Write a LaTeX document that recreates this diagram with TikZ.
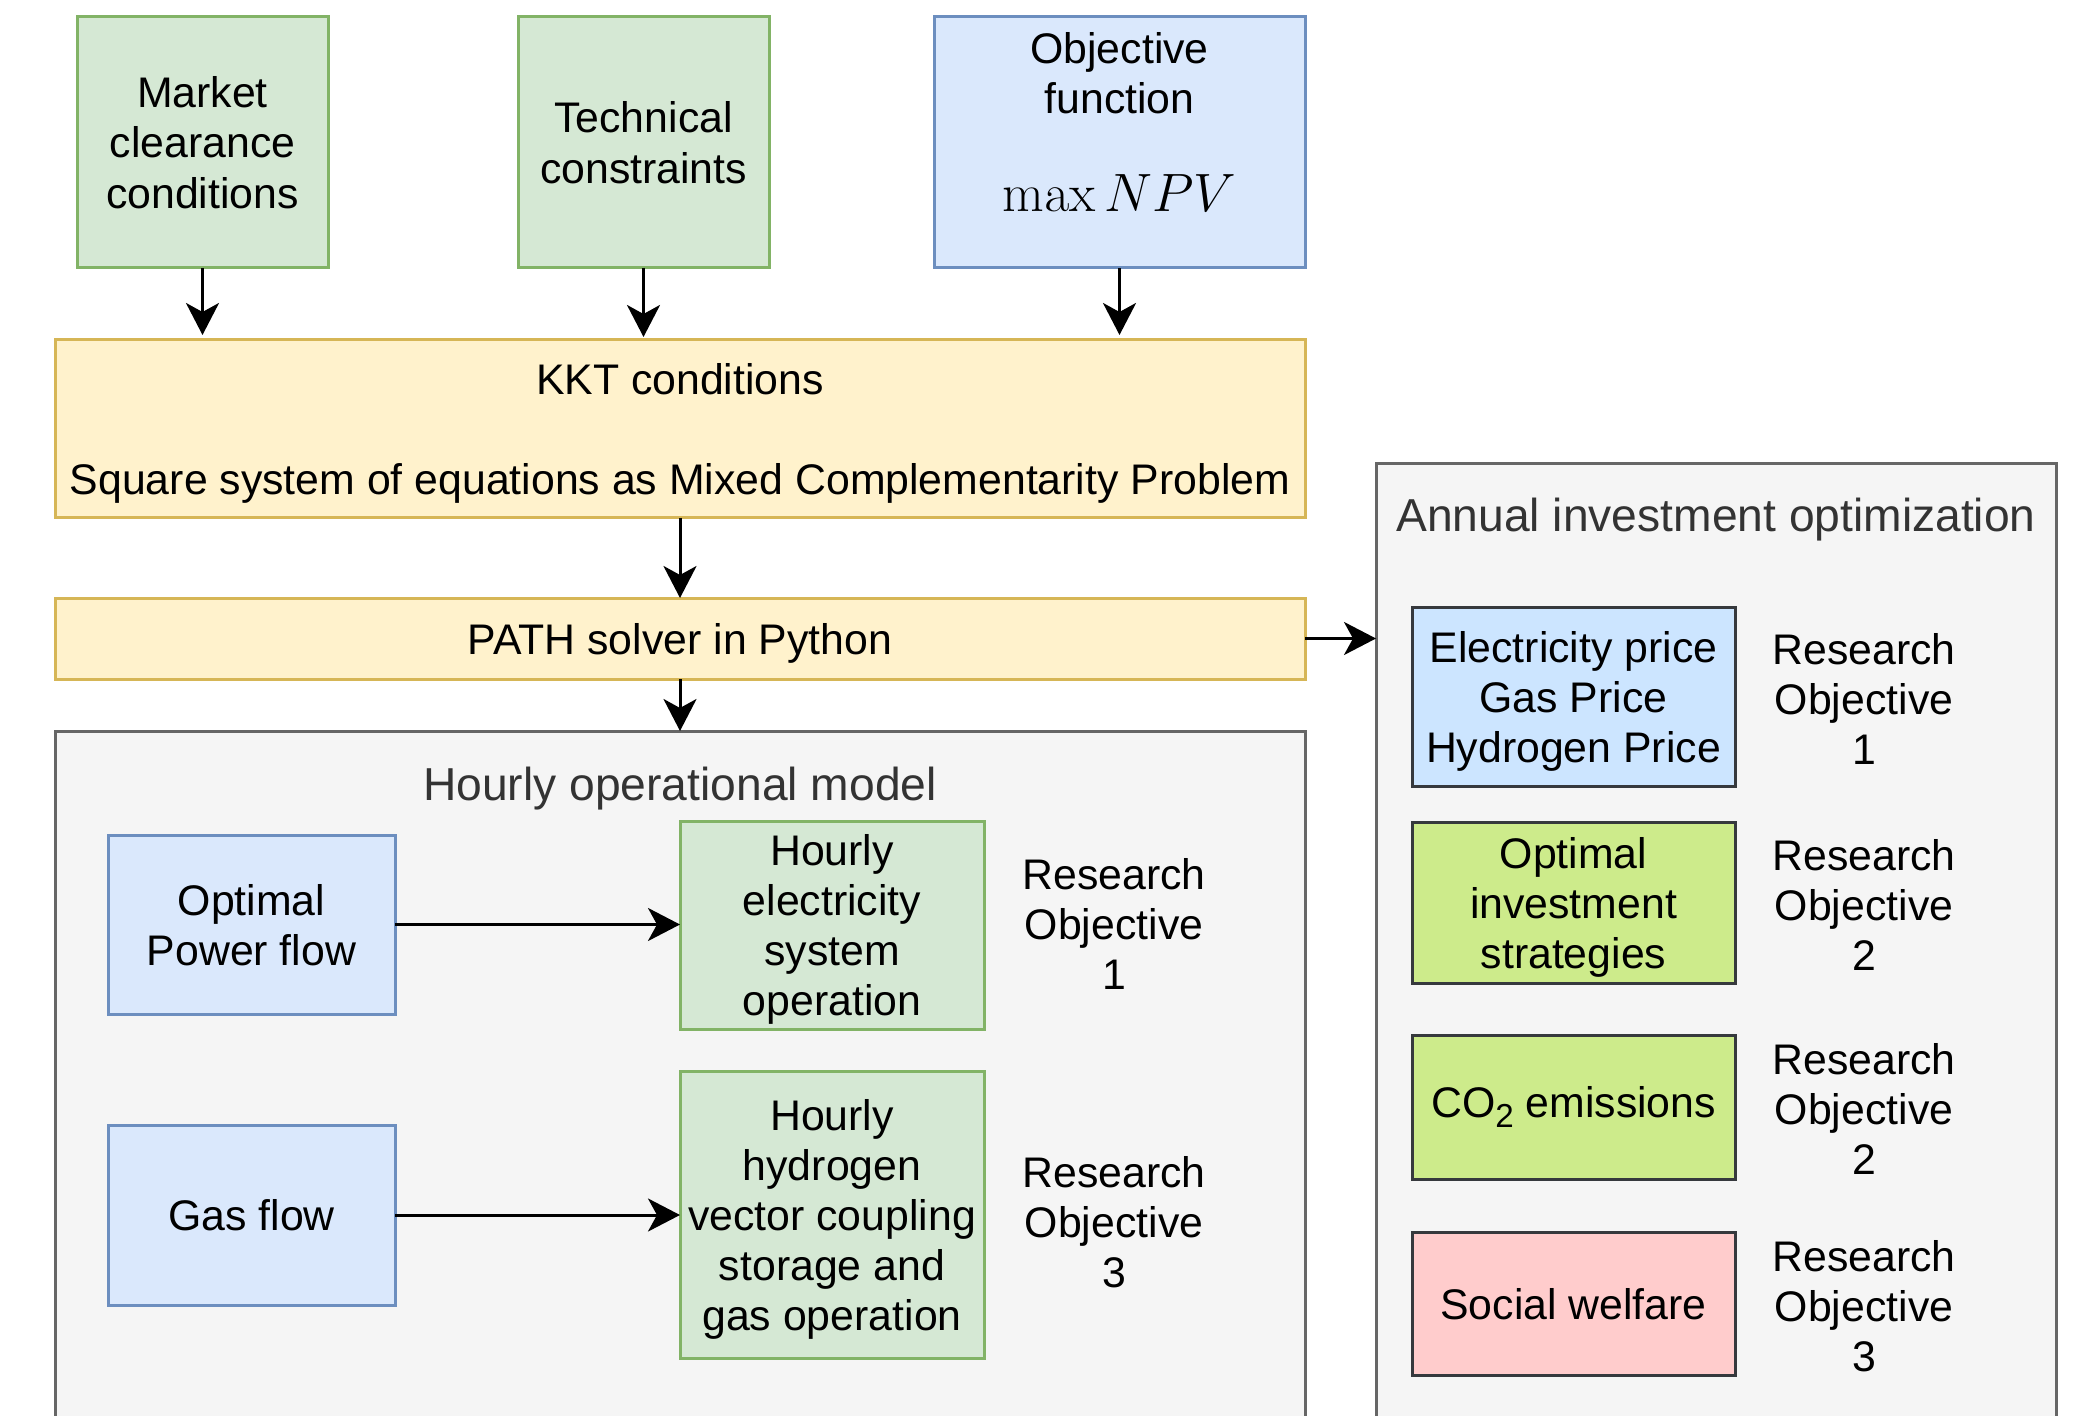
\documentclass[tikz,border=0pt]{standalone}
\usepackage{fix-cm}
\usepackage[no-math]{fontspec}
\setmainfont{Liberation Sans}
\usetikzlibrary{arrows.meta}

\definecolor{grnfill}{HTML}{D5E8D4}
\definecolor{grnline}{HTML}{82B366}
\definecolor{blufill}{HTML}{DAE8FC}
\definecolor{bluline}{HTML}{6C8EBF}
\definecolor{yelfill}{HTML}{FFF2CC}
\definecolor{yelline}{HTML}{D6B656}
\definecolor{grayfill}{HTML}{F5F5F5}
\definecolor{grayline}{HTML}{666666}
\definecolor{titletext}{HTML}{333333}
\definecolor{darkline}{HTML}{36393D}
\definecolor{skyfill}{HTML}{CCE5FF}
\definecolor{limefill}{HTML}{CDEB8B}
\definecolor{rosefill}{HTML}{FFCCCC}

\newcommand\diagfont{\fontsize{21.4pt}{25pt}\selectfont}
\newcommand\headfont{\fontsize{23.1pt}{27pt}\selectfont}
\newcommand\subtwo{\raisebox{-5pt}{\fontsize{16.6pt}{16.6pt}\selectfont 2}}

\begin{document}
\begin{tikzpicture}[x=0.5pt,y=-0.5pt,
  box/.style={draw, line width=1.5pt, inner sep=0pt, outer sep=0pt,
    align=center, font=\diagfont, text=black, text depth=0pt},
  greenbox/.style={box, fill=grnfill, draw=grnline},
  bluebox/.style={box, fill=blufill, draw=bluline},
  yellowbox/.style={box, fill=yelfill, draw=yelline},
  groupbox/.style={box, fill=grayfill, draw=grayline},
  skybox/.style={box, fill=skyfill, draw=darkline},
  limebox/.style={box, fill=limefill, draw=darkline},
  rosebox/.style={box, fill=rosefill, draw=darkline},
  grouptitle/.style={font=\headfont, text=titletext, inner sep=0pt, text depth=0pt},
  plain/.style={font=\diagfont, align=center, inner sep=0pt},
  conn/.style={line width=1.5pt,
    -{Stealth[length=16pt,width=16.5pt,inset=4.5pt]}}
]
\useasboundingbox (0,0) rectangle (2080,1416);
\clip (0,0) rectangle (2080,1416);

% group containers
\node[groupbox, minimum width=625pt, minimum height=354.5pt] (hourly) at (680,1085.5) {};
\node[grouptitle] (hourlytitle) at (680,784) {Hourly operational model};
\node[groupbox, minimum width=340pt, minimum height=488pt] (annual) at (1716,952) {};
\node[grouptitle] (annualtitle) at (1716,515) {Annual investment optimization};

% model inputs
\node[greenbox, minimum width=125.5pt, minimum height=125.5pt] (market) at (202.5,142.5)
  {Market\\clearance\\conditions};
\node[greenbox, minimum width=125.5pt, minimum height=125.5pt] (tech) at (643.5,142.5)
  {Technical\\constraints};
\node[bluebox, minimum width=185.5pt, minimum height=125.5pt] (obj) at (1119.5,142.5) {};
\node[plain] (objtext) at (1119.5,73) {Objective\\function};
\node[inner sep=0pt, font=\fontsize{27pt}{32pt}\selectfont] (objmath) at (1119.5,193) {$\max NPV$};

% solution chain
\node[yellowbox, minimum width=625pt, minimum height=89pt] (kkt) at (680,429)
  {KKT conditions\\[25pt]Square system of equations as Mixed Complementarity Problem};
\node[yellowbox, minimum width=625pt, minimum height=40.5pt] (path) at (680,638.5)
  {PATH solver in Python};

% hourly operational model
\node[bluebox, minimum width=143.5pt, minimum height=89.5pt] (opf) at (251.5,924.5)
  {Optimal\\Power flow};
\node[greenbox, minimum width=152pt, minimum height=104pt] (helec) at (832,925)
  {Hourly\\electricity\\system\\operation};
\node[plain] (ro1a) at (1114,924) {Research\\Objective\\1};
\node[bluebox, minimum width=143.5pt, minimum height=90pt] (gas) at (251.5,1215)
  {Gas flow};
\node[greenbox, minimum width=152pt, minimum height=143.5pt] (hhyd) at (832,1214.5)
  {Hourly\\hydrogen\\vector coupling\\storage and\\gas operation};
\node[plain] (ro3a) at (1114,1222) {Research\\Objective\\3};

% annual investment optimization
\node[skybox, minimum width=161.5pt, minimum height=89.5pt] (price) at (1573.5,696.5)
  {Electricity price\\Gas Price\\Hydrogen Price};
\node[plain] (ro1b) at (1864,699) {Research\\Objective\\1};
\node[limebox, minimum width=161.5pt, minimum height=80.5pt] (invest) at (1573.5,902.5)
  {Optimal\\investment\\strategies};
\node[plain] (ro2b) at (1864,905) {Research\\Objective\\2};
\node[limebox, minimum width=161.5pt, minimum height=72pt, text depth=5pt] (co2) at (1573.5,1107)
  {CO\subtwo{} emissions};
\node[plain] (ro2c) at (1864,1109) {Research\\Objective\\2};
\node[rosebox, minimum width=161.5pt, minimum height=71.5pt] (welfare) at (1573.5,1303.5)
  {Social welfare};
\node[plain] (ro3b) at (1864,1306) {Research\\Objective\\3};

% connectors
\draw[conn, shorten >=2.5pt] (market.south) -- (market.south |- kkt.north);
\draw[conn, shorten >=1.5pt] (tech.south) -- (tech.south |- kkt.north);
\draw[conn, shorten >=2.5pt] (obj.south) -- (obj.south |- kkt.north);
\draw[conn] (kkt.south) -- (path.north);
\draw[conn] (path.south) -- (hourly.north);
\draw[conn] (path.east) -- (path.east -| annual.west);
\draw[conn] (opf.east) -- (opf.east -| helec.west);
\draw[conn] (gas.east) -- (gas.east -| hhyd.west);
\end{tikzpicture}
\end{document}
